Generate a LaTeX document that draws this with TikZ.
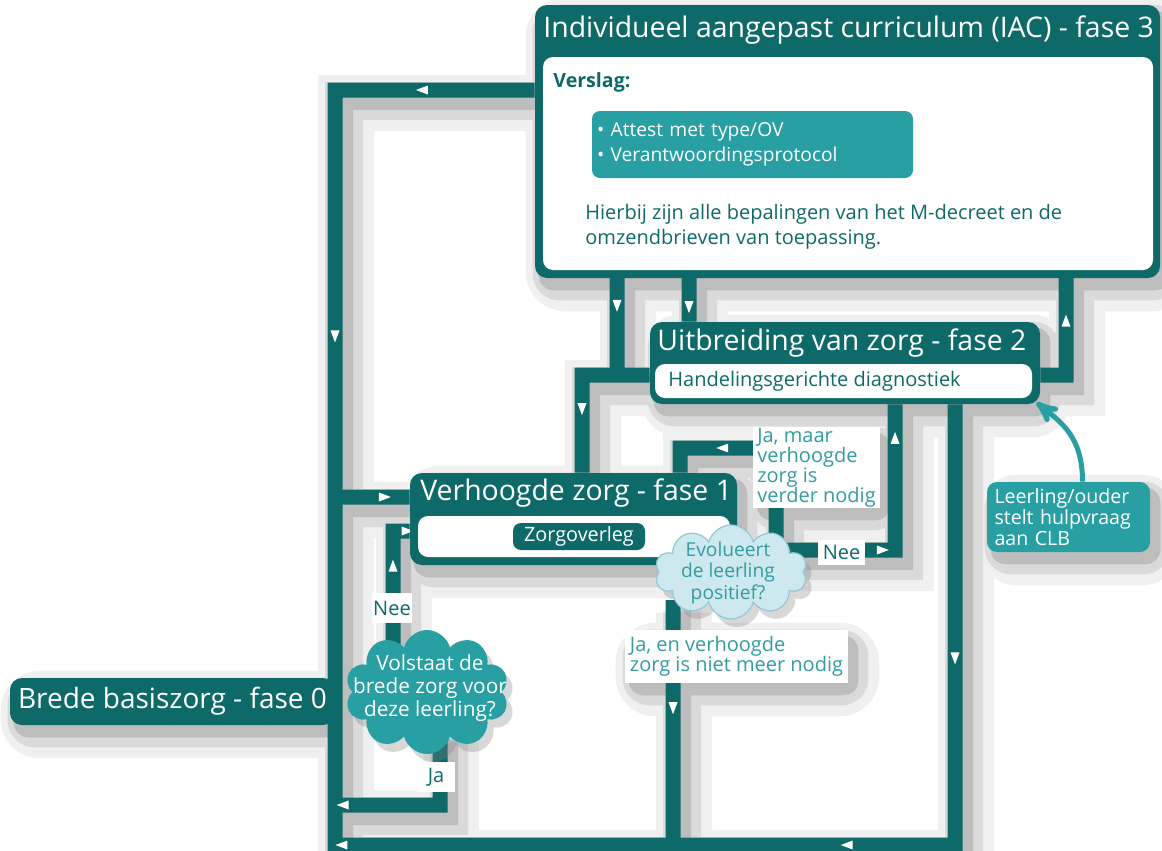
\documentclass[tikz,border=0pt]{standalone}
\usepackage{fontspec}
\setmainfont{Open Sans}
\usetikzlibrary{arrows,positioning,shapes.geometric,shapes.symbols,backgrounds,shadows}

\definecolor{zorgdark}{RGB}{14,106,104}
\definecolor{zorgmid}{RGB}{40,160,163}
\definecolor{zorglight}{RGB}{205,232,238}
\definecolor{zorgline}{RGB}{150,200,210}
\definecolor{zorgtext}{RGB}{52,156,160}

\tikzset{
  flowmark/.style={isosceles triangle,isosceles triangle stretches,fill=white,inner sep=0pt,
                   minimum width=4.5pt,minimum height=6pt,sloped,allow upside down},
  nomark/.style={inner sep=0pt},
  pipe/.style={draw=zorgdark,line width=7.5pt,line join=miter},
  pipecore/.style={draw=black,line width=11pt},
  pipeshadow/.style={draw=black,line width=19pt},
  pipehalo/.style={draw=black,line width=28pt},
  boxnone/.style={},
  boxcore/.style={fill=black,draw=black,line width=3pt,rounded corners=6pt},
  boxshadow/.style={fill=black,draw=black,line width=11pt,rounded corners=8pt},
  boxhalo/.style={fill=black,draw=black,line width=20pt,rounded corners=10pt}
}

\begin{document}
\begin{tikzpicture}[x=0.5pt,y=-0.5pt,>=stealth',
    phase/.style={fill=zorgdark,rounded corners=6pt,inner sep=0pt},
    panel/.style={fill=white,rounded corners=5pt,inner sep=0pt},
    title/.style={text=white,font=\fontsize{14.2}{17}\selectfont,inner sep=0pt,anchor=west},
    body/.style={text=zorgdark,font=\fontsize{10}{12.5}\selectfont,inner sep=0pt,anchor=west,align=left},
    tag/.style={fill=white,inner sep=0pt,font=\fontsize{10}{10}\selectfont},
    bubble/.style={cloud,cloud puffs=10,cloud ignores aspect,inner sep=0pt,
                   drop shadow={opacity=.3,shadow xshift=3pt,shadow yshift=-4pt}}]

\useasboundingbox (0,0) rectangle (1162,851);

% fase 3
\node[phase,minimum width=312.5pt,minimum height=136.5pt] (fase3) at (847.5,141.5) {};
\node[title] (fase3title) at (543,30) {Individueel aangepast curriculum (IAC) - fase 3};
\node[panel,minimum width=305pt,minimum height=106.5pt] (verslagpanel) at (848,163.5) {};
\node[body,font=\fontsize{9.8}{12.5}\selectfont\bfseries] (verslag) at (553,82) {Verslag:};
\node[fill=zorgmid,rounded corners=4pt,text=white,align=left,inner xsep=2.5pt,inner ysep=0pt,
      text width=155.5pt,minimum height=33.5pt,font=\fontsize{9.6}{12.5}\selectfont] (attest) at (752.5,144.5)
      {\textbullet{} Attest met type/OV\\\textbullet{} Verantwoordingsprotocol};
\node[body] (hierbij) at (585,227) {Hierbij zijn alle bepalingen van het M-decreet en de\\omzendbrieven van toepassing.};

% fase 2
\node[phase,minimum width=195pt,minimum height=41pt] (fase2) at (845,363) {};
\node[title] (fase2title) at (657,343) {Uitbreiding van zorg - fase 2};
\node[panel,minimum width=188.5pt,minimum height=17pt] (hgdpanel) at (843.5,381) {};
\node[body] (hgd) at (668,381) {Handelingsgerichte diagnostiek};

% fase 1
\node[phase,minimum width=163.5pt,minimum height=46pt] (fase1) at (573.5,519) {};
\node[title] (fase1title) at (420,493) {Verhoogde zorg - fase 1};
\node[panel,minimum width=156pt,minimum height=20.5pt] (overlegpanel) at (574,536.5) {};
\node[phase,rounded corners=4pt,minimum width=66pt,minimum height=13.5pt,text=white,
      font=\fontsize{9.9}{10}\selectfont] (zorgoverleg) at (579,536.5) {Zorgoverleg};

% fase 0
\node[phase,minimum width=162.5pt,minimum height=23.5pt,text=white,
      font=\fontsize{14}{17}\selectfont] (fase0) at (172.5,701.5) {Brede basiszorg - fase 0};

% vragen
\node[bubble,fill=zorgmid,minimum width=82pt,minimum height=62pt] (volstaat) at (427,692) {};
\node[text=white,align=center,inner sep=0pt,font=\fontsize{10.4}{11.7}\selectfont] (volstaattext) at (430,688)
      {Volstaat de\\brede zorg voor\\deze leerling?};
\node[bubble,fill=zorglight,draw=zorgline,line width=.6pt,minimum width=76pt,minimum height=47pt] (evolueert) at (731,572) {};
\node[text=zorgtext,align=center,inner sep=0pt,font=\fontsize{9.6}{10.8}\selectfont] (evolueerttext) at (728,573)
      {Evolueert\\de leerling\\positief?};

% antwoorden
\node[tag,minimum width=20pt,minimum height=15pt,text=zorgdark] (neeA) at (392,608) {Nee};
\node[tag,minimum width=19pt,minimum height=15pt,text=zorgdark] (jaA) at (436,777) {Ja};
\node[tag,minimum width=23.5pt,minimum height=12.5pt,text=zorgdark] (neeB) at (841.5,552.5) {Nee};
\node[tag,text=zorgtext,align=left,minimum width=63.5pt,minimum height=40.5pt] (jamaar) at (816.5,467.5)
      {Ja, maar\\verhoogde\\zorg is\\verder nodig};
\node[tag,text=zorgtext,align=left,minimum width=111.5pt,minimum height=26.5pt] (jaen) at (736.5,656.5)
      {Ja, en verhoogde\\zorg is niet meer nodig};

% CLB
\node[fill=zorgmid,rounded corners=5pt,text=white,align=left,text width=74pt,inner xsep=3.75pt,inner ysep=0pt,
      minimum height=35pt,font=\fontsize{9.8}{9.2}\selectfont] (clb) at (1068.5,517)
      {Leerling/ouder\\stelt hulpvraag\\aan CLB};
\draw[->,draw=zorgmid,line width=2.5pt] ([xshift=7pt]clb.north) .. controls +(0,-45) and +(25,20) .. ([shift={(-2pt,1pt)}]fase2.south east);

% buizen
\coordinate (bustop) at (335,90);
\coordinate (busbot) at (335,851);
\coordinate (busf1) at (335,497);
\coordinate (neestart) at (393,665);
\coordinate (neebend) at (393,531);
\coordinate (jastart) at (440,730);
\coordinate (jabend) at (440,805);
\coordinate (jabus) at (335,805);
\coordinate (f3left) at (617,272);
\coordinate (f3mid) at (689,272);
\coordinate (f3right) at (1066,272);
\coordinate (f2join) at (617,375);
\coordinate (f1drop) at (582,375);
\coordinate (f2out) at (1066,375);
\coordinate (f2down) at (955,845);
\coordinate (botbus) at (335,845);
\coordinate (ejastart) at (673,600);
\coordinate (ejabot) at (673,845);
\coordinate (eneestart) at (770,550);
\coordinate (eneebend) at (895,550);
\coordinate (emaarstart) at (776,560);
\coordinate (emaarbend) at (776,448);
\coordinate (emaarleft) at (680,448);

\begin{scope}[on background layer]
\fill[white] (0,0) rectangle (1162,851);
\foreach \ln/\mk/\bx/\dx/\dy/\op in {pipehalo/nomark/boxhalo/11/13/.06,
                                    pipeshadow/nomark/boxshadow/9/11/.09,
                                    pipecore/nomark/boxcore/7/9/.13,
                                    pipe/flowmark/boxnone/0/0/1}{
  \begin{scope}[transform canvas={shift={(\dx,\dy)}}]
  \begin{scope}[transparency group,opacity=\op]
    \foreach \n in {fase3,fase2,fase1,fase0,clb,jamaar,jaen}
      \path[\bx] (\n.south west) rectangle (\n.north east);
    \draw[\ln] (fase3.west |- bustop) -- node[\mk,pos=.55] (m1) {} (bustop)
                                      -- node[\mk,pos=.32] (m2) {} (busbot);
    \draw[\ln] (busf1) -- node[\mk,pos=.63] (m3) {} (busf1 -| fase1.west);
    \draw[\ln] (neestart) -- node[\mk,pos=.72] (m4) {} (neebend)
                          -- node[\mk,pos=.7] (m5) {} (neebend -| fase1.west);
    \draw[\ln] (jastart) -- (jabend) -- node[\mk,pos=.9] (m6) {} (jabus);
    \draw[\ln] (f3left) -- node[\mk,pos=.3] (m7) {} (f2join);
    \draw[\ln] (f2join -| fase2.west) -- (f1drop) -- node[\mk,pos=.32] (m8) {} (f1drop |- fase1.north);
    \draw[\ln] (f3mid) -- node[\mk,pos=.65] (m9) {} (f3mid |- fase2.north);
    \draw[\ln] (fase2.east |- f2out) -- (f2out) -- node[\mk,pos=.5] (m10) {} (f3right);
    \draw[\ln] (f2down |- fase2.south) -- node[\mk,pos=.57] (m11) {} (f2down)
               -- node[\mk,pos=.17] (m12) {} node[\mk,pos=.985] (m13) {} (botbus);
    \draw[\ln] (ejastart) -- node[\mk,pos=.43] (m14) {} (ejabot);
    \draw[\ln] (eneestart) -- node[\mk,pos=.88] (m15) {} (eneebend)
               -- node[\mk,pos=.75] (m16) {} (eneebend |- fase2.south);
    \draw[\ln] (emaarstart) -- (emaarbend) -- node[\mk,pos=.53] (m17) {} (emaarleft)
               -- (emaarleft |- fase1.north);
  \end{scope}
  \end{scope}
}
\end{scope}
\end{tikzpicture}
\end{document}
